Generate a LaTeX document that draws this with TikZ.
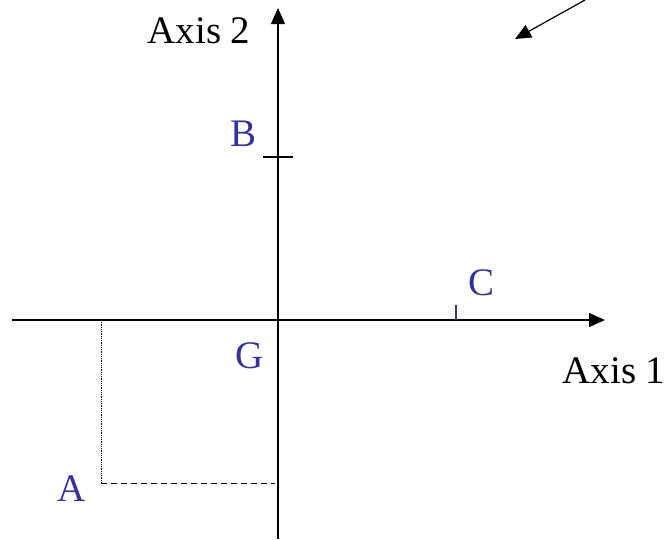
\documentclass[tikz,border=0pt]{standalone}
\usepackage{fontspec}
\setmainfont{Liberation Serif}
\usetikzlibrary{arrows.meta}
\definecolor{labelblue}{RGB}{51,51,153}
\tikzset{
  axis/.style={line width=1.2pt, -{Triangle[length=16pt,width=14pt]}},
  pointlabel/.style={text=labelblue, font=\fontsize{39}{44}\selectfont, inner sep=0pt},
  axislabel/.style={font=\fontsize{39}{44}\selectfont, inner sep=0pt}
}
\begin{document}
\begin{tikzpicture}[x=1pt,y=-1pt]
\useasboundingbox (0,0) rectangle (666,539);

% axes through G
\coordinate (G) at (278,320);
\coordinate (xstart) at (12,320);
\coordinate (xend) at (605,320);
\coordinate (ystart) at (278,539);
\coordinate (yend) at (278,8);
\draw[axis] (xstart) -- (xend);
\draw[axis] (ystart) -- (yend);

% ticks
\draw[line width=1.2pt] (263,157) -- (293,157);
\draw[labelblue, line width=1.2pt] (456,305) -- (456,320);

% projection of A
\coordinate (Ax) at (101,320);
\coordinate (Apt) at (101,483);
\coordinate (Ay) at (275,483);
\draw[densely dotted, line width=0.8pt] (Ax) -- (Apt);
\draw[dash pattern=on 6pt off 4pt, line width=0.8pt] (Apt) -- (Ay);

% labels
\node[pointlabel] (A) at (72,489) {A};
\node[pointlabel] (Glab) at (250,356) {G};
\node[pointlabel] (B) at (244,134) {B};
\node[pointlabel] (C) at (481,283) {C};
\node[axislabel] (axis1) at (614,371) {Axis 1};
\node[axislabel] (axis2) at (199,31) {Axis 2};

% arrow in the corner
\coordinate (cornerstart) at (585,0);
\coordinate (cornerend) at (515,39);
\draw[line width=1.2pt, -{Triangle[length=16pt,width=14pt]}] (cornerstart) -- (cornerend);
\end{tikzpicture}
\end{document}
